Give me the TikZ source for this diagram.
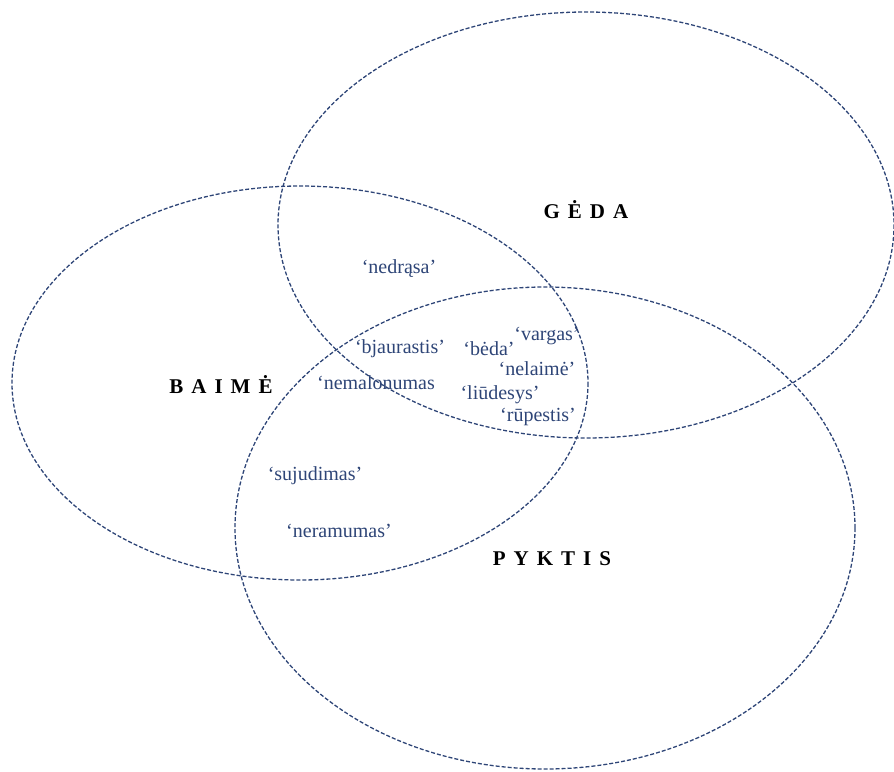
\documentclass[tikz,border=0pt]{standalone}
\usepackage{fontspec}
\setmainfont{Liberation Serif}
\definecolor{ink}{HTML}{2E4577}
\tikzset{
  ring/.style={draw=ink, line width=1.3pt, dash pattern=on 4pt off 2pt},
  word/.style={text=ink, font=\fontsize{20}{22}\selectfont, inner sep=0pt, anchor=center},
  label/.style={text=black, font=\fontsize{21}{23}\selectfont\bfseries, inner sep=0pt, anchor=center}
}
\newcommand{\gp}{\hspace{8pt}}
\begin{document}
\begin{tikzpicture}[x=1pt,y=-1pt]
\useasboundingbox (0,0) rectangle (894,771);
\draw[ring] (300,383) ellipse [x radius=288, y radius=197];
\draw[ring] (586,225) ellipse [x radius=308, y radius=213];
\draw[ring] (545,528) ellipse [x radius=310, y radius=241];
\node[label] (baime) at (221,385) {B\gp A\gp I\gp M\gp Ė};
\node[label] (geda) at (586,210) {G\gp Ė\gp D\gp A};
\node[label] (pyktis) at (552,559) {P\gp Y\gp K\gp T\gp I\gp S};
\node[word] (nedrasa) at (399,269) {‘nedrąsa’};
\node[word] (bjaurastis) at (400,349) {‘bjaurastis’};
\node[word] (beda) at (489,349) {‘bėda’};
\node[word] (vargas) at (547,336) {‘vargas’};
\node[word] (nelaime) at (537,369) {‘nelaimė’};
\node[word] (nemalonumas) at (376,383) {‘nemalonumas};
\node[word] (liudesys) at (500,395) {‘liūdesys’};
\node[word] (rupestis) at (538,417) {‘rūpestis’};
\node[word] (sujudimas) at (315,476) {‘sujudimas’};
\node[word] (neramumas) at (339,531) {‘neramumas’};
\end{tikzpicture}
\end{document}
